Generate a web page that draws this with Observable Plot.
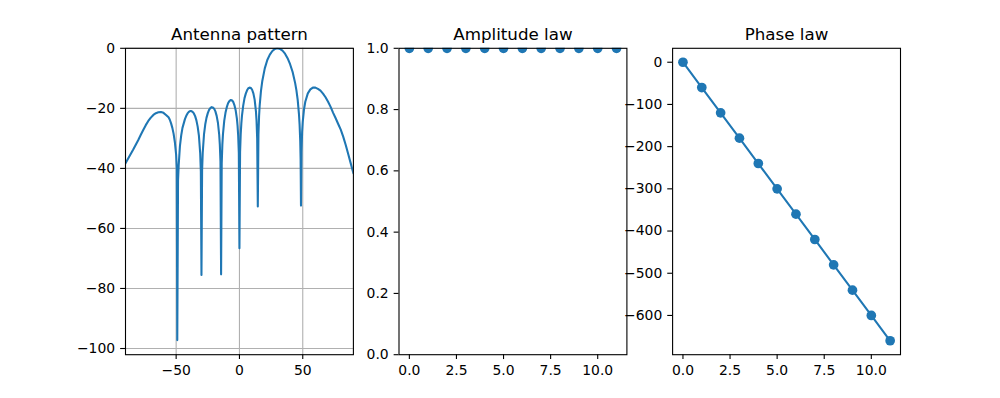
<!DOCTYPE html>
<html>
<head>
<meta charset="utf-8">
<script src="https://cdn.jsdelivr.net/npm/d3@7"></script>
<script src="https://cdn.jsdelivr.net/npm/@observablehq/plot@0.6"></script>
<style>
html, body { margin: 0; padding: 0; background: #ffffff; }
#chart { position: relative; width: 1000px; height: 398px; overflow: hidden; background: #ffffff; }
#chart svg { position: absolute; left: 0; top: 0; }
</style>
</head>
<body>
<div id="chart"></div>
<script>
// ---------------- data ----------------
const patternAngle = [
  -90, -88, -86, -84, -82, -80, -78, -76, -74, -72, -70, -68, -66, -64, -62, -60, -58, -56, -55, -54, -53, -52, -51, -50, -49.5,
  -49.1,
  -48.5, -48, -47, -46, -45, -44, -43, -42, -41, -40, -39, -38, -37, -36, -35, -34, -33, -32, -31, -30.5,
  -30,
  -29.5, -29, -28, -27, -26, -25, -24, -23, -22, -21, -20, -19, -18, -17, -16, -15.5, -15,
  -14.5,
  -14, -13.5, -13, -12, -11, -10, -9, -8, -7, -6, -5, -4, -3, -2, -1.5, -1, -0.5,
  0,
  0.5, 1, 1.5, 2, 3, 4, 5, 6, 7, 8, 9, 10, 11, 12, 13, 13.5, 14,
  14.5,
  15, 15.5, 16, 17, 18, 20, 22, 24, 26, 28, 30, 32, 34, 36, 38, 40, 42, 44, 45, 46, 47, 47.5, 48, 48.3,
  48.6,
  49, 49.5, 50, 51, 52, 54, 56, 58, 60, 62, 64, 66, 68, 70, 72, 74, 76, 78, 80, 82, 84, 86, 88, 90
];
const patternDb = [
  -38.3, -36.8, -35.3, -33.8, -32.2, -30.6, -28.9, -27.2, -25.6, -24.2, -23.1, -22.2, -21.6, -21.3, -21.2, -21.5, -22.2, -23.0, -23.8, -25.0, -26.5, -28.5, -31.3, -35.5, -40.0,
  -97.2,
  -44.0, -39.0, -32.5, -29.0, -26.5, -25.0, -23.5, -22.5, -21.7, -21.2, -20.9, -20.9, -21.2, -21.7, -22.6, -24.0, -26.1, -29.2, -35.0, -40.9,
  -75.5,
  -40.7, -34.7, -28.7, -25.3, -23.1, -21.6, -20.5, -19.9, -19.6, -19.7, -20.1, -21.0, -22.5, -24.8, -28.8, -32.1, -37.7,
  -75.3,
  -38.4, -32.1, -28.5, -24.1, -21.4, -19.6, -18.3, -17.6, -17.2, -17.3, -17.8, -18.9, -20.6, -23.5, -25.8, -29.1, -34.9,
  -66.6,
  -34.6, -28.5, -25.0, -22.4, -19.0, -16.6, -15.1, -14.0, -13.3, -13.1, -13.2, -13.8, -15.0, -17.1, -20.9, -24.1, -30.0,
  -52.7,
  -28.7, -22.6, -18.9, -14.2, -11.0, -6.7, -3.9, -2.1, -0.9, -0.2, 0, -0.2, -0.8, -1.8, -3.3, -5.3, -7.9, -11.6, -14.0, -17.2, -21.9, -25.4, -30.8, -36.9,
  -52.4,
  -34.5, -27.9, -24.4, -20.3, -17.8, -15.0, -13.7, -13.1, -13.1, -13.5, -14.1, -15.1, -16.3, -17.8, -19.5, -21.5, -23.3, -25.2, -27.1, -29.5, -32.3, -35.4, -38.5, -41.6
];
const elementIndex = [0, 1, 2, 3, 4, 5, 6, 7, 8, 9, 10, 11];
const amplitudeLaw = [1, 1, 1, 1, 1, 1, 1, 1, 1, 1, 1, 1];
const phaseLaw = [0, -60, -120, -180, -240, -300, -360, -420, -480, -540, -600, -660];

const patternXTicks = [-50, 0, 50];
const patternYTicks = [0, -20, -40, -60, -80, -100];
const lawXTicks = [0, 2.5, 5, 7.5, 10];
const amplitudeYTicks = [0, 0.2, 0.4, 0.6, 0.8, 1.0];
const phaseYTicks = [0, -100, -200, -300, -400, -500, -600];
const titles = ["Antenna pattern", "Amplitude law", "Phase law"];

// ---------------- layout ----------------
const W = 1000, H = 398;
const TOP = 47.8, BOTTOM = 354.2;
const panels = [[125, 352.9], [398.5, 626.4], [672.1, 900]];
const BLUE = "#1f77b4";
const FONT = "DejaVu Sans";
const TICK_FS = 13.9, TITLE_FS = 16.7;
const DOT_R = 4.85;
const minus = (s) => s.replace(/-/g, "\u2212");
const fmtInt = (d) => minus(String(d));
const fmt1 = (d) => minus(d.toFixed(1));

const pad = (lo, hi) => { const r = hi - lo || 1; return [lo - 0.05 * r, hi + 0.05 * r]; };

const patternRows = patternAngle.map((a, i) => ({angle: a, db: patternDb[i]}));
const lawRows = elementIndex.map((k, i) => ({k, amp: amplitudeLaw[i], phase: phaseLaw[i]}));

const patYExt = pad(d3.min(patternDb), d3.max(patternDb));
const lawXDom = pad(d3.min(elementIndex), d3.max(elementIndex));
const phaseYDom = pad(d3.min(phaseLaw), d3.max(phaseLaw));

function axes(xTicks, yTicks, xFmt, yFmt) {
  const common = {fontSize: TICK_FS, tickSize: 4.86, strokeWidth: 1.1, stroke: "black", fill: "black", color: "black"};
  return [
    Plot.axisX(xTicks, {...common, anchor: "bottom", tickPadding: 6, tickFormat: xFmt, label: null}),
    Plot.axisY(yTicks, {...common, anchor: "left", tickPadding: 5.5, tickFormat: yFmt, label: null})
  ];
}
function title(t) {
  return Plot.text([t], {frameAnchor: "top", dy: -13.6, lineAnchor: "middle", fontSize: TITLE_FS, fill: "black", text: (d) => d});
}
function base(i, xDom, yDom, marks) {
  return Plot.plot({
    width: W, height: H,
    marginLeft: panels[i][0], marginRight: W - panels[i][1],
    marginTop: TOP, marginBottom: H - BOTTOM,
    style: {fontFamily: FONT, background: "transparent", color: "black", overflow: "visible"},
    x: {domain: xDom},
    y: {domain: yDom},
    marks
  });
}

const p1 = base(0, [-90, 90], [patYExt[0], 0], [
  Plot.gridX(patternXTicks, {stroke: "#b0b0b0", strokeOpacity: 1, strokeWidth: 1.1}),
  Plot.gridY(patternYTicks, {stroke: "#b0b0b0", strokeOpacity: 1, strokeWidth: 1.1}),
  Plot.line(patternRows, {x: "angle", y: "db", stroke: BLUE, strokeWidth: 2.08, clip: true}),
  ...axes(patternXTicks, patternYTicks, fmtInt, fmtInt),
  Plot.frame({stroke: "black", strokeWidth: 1.1}),
  title(titles[0])
]);

const p2 = base(1, lawXDom, [0, 1], [
  Plot.dot(lawRows, {x: "k", y: "amp", r: DOT_R, fill: BLUE, stroke: null, clip: true}),
  ...axes(lawXTicks, amplitudeYTicks, fmt1, fmt1),
  Plot.frame({stroke: "black", strokeWidth: 1.1}),
  title(titles[1])
]);

const p3 = base(2, lawXDom, phaseYDom, [
  Plot.line(lawRows, {x: "k", y: "phase", stroke: BLUE, strokeWidth: 2.08, clip: true}),
  Plot.dot(lawRows, {x: "k", y: "phase", r: DOT_R, fill: BLUE, stroke: null, clip: true}),
  ...axes(lawXTicks, phaseYTicks, fmt1, fmtInt),
  Plot.frame({stroke: "black", strokeWidth: 1.1}),
  title(titles[2])
]);

const chart = document.getElementById("chart");
chart.append(p1, p2, p3);
</script>
</body>
</html>
